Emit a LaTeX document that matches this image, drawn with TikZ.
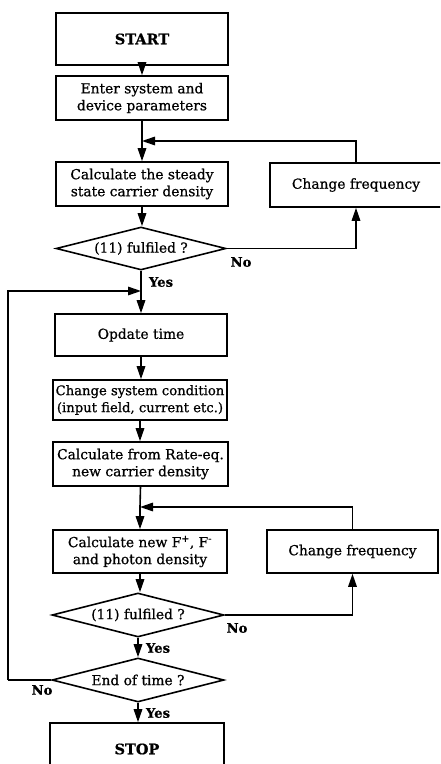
\documentclass[tikz,border=0pt]{standalone}
\usepackage{fontspec}
\setmainfont{DejaVu Serif}[FakeBold=0.7]
\usetikzlibrary{shapes.geometric,arrows.meta}
\begin{document}
\begin{tikzpicture}[x=1pt,y=-1pt,
  box/.style={draw, line width=1.6pt, inner sep=0pt, align=center, font=\fontsize{13.8}{17}\selectfont},
  dia/.style={draw, diamond, shape aspect=3.9, line width=1.6pt, inner sep=0pt, font=\fontsize{13.8}{17}\selectfont},
  arr/.style={line width=1.6pt, -{Triangle[length=13pt,width=8.5pt]}},
  ln/.style={line width=1.6pt},
  lbl/.style={font=\bfseries\fontsize{13.2}{15}\selectfont, inner sep=0pt},
  bold/.style={font=\bfseries\fontsize{14.5}{17}\selectfont}]
\clip (0,0) rectangle (440,764);
\fill[white] (0,0) rectangle (440,764);
% boxes
\node[box, bold, minimum width=172pt, minimum height=52pt] (start) at (142,39) {START};
\node[box, minimum width=172pt, minimum height=44pt] (enter) at (142,98) {Enter system and\\device parameters};
\node[box, minimum width=172pt, minimum height=44pt] (steady) at (142,184) {Calculate the steady\\state carrier density};
\node[box, minimum width=172pt, minimum height=44pt] (cf1) at (356,185) {Change frequency};
\node[dia, minimum width=170pt, minimum height=43pt] (d1) at (141,248.5) {(11) fulfiled ?};
\node[box, minimum width=172pt, minimum height=42pt] (upd) at (141,335) {Opdate time};
\node[box, minimum width=174pt, minimum height=40pt, font=\fontsize{13.2}{17}\selectfont] (chg) at (140,400) {Change system condition\\(input field, current etc.)};
\node[box, minimum width=175pt, minimum height=44pt] (rate) at (140.5,464) {Calculate from Rate-eq.\\new carrier density};
\node[box, minimum width=174pt, minimum height=43pt] (calcf) at (140,551.5) {Calculate new F\textsuperscript{+}, F\textsuperscript{-}\\and photon density};
\node[box, minimum width=171pt, minimum height=43pt] (cf2) at (352.5,551.5) {Change frequency};
\node[dia, minimum width=172pt, minimum height=44pt] (d2) at (138,615) {(11) fulfiled ?};
\node[dia, minimum width=172pt, minimum height=44pt] (d3) at (138,680) {End of time ?};
\node[box, bold, minimum width=174pt, minimum height=52pt] (stop) at (137,749) {STOP};
% labels
\node[lbl] (no1) at (241,262) {No};
\node[lbl] (yes1) at (161,282) {Yes};
\node[lbl] (no2) at (237,628) {No};
\node[lbl] (yes2) at (158,648) {Yes};
\node[lbl] (no3) at (42,690) {No};
\node[lbl] (yes3) at (158,713) {Yes};
% junctions
\coordinate (j1) at (142,141);
\coordinate (j2) at (141,291);
\coordinate (j3) at (140,507);
\coordinate (lft) at (8,680);
% connectors
\draw[arr] (start.south) -- (start.south |- enter.north);
\draw[ln] (enter.south) -- (j1);
\draw[arr] (j1) -- (j1 |- steady.north);
\draw[arr] (cf1.north) |- (j1);
\draw[arr] (steady.south) -- (steady.south |- d1.north);
\draw[arr] (d1.east) -| (cf1.south);
\draw[ln] (d1.south) -- (j2);
\draw[arr] (j2) -- (j2 |- upd.north);
\draw[arr] (upd.south) -- (upd.south |- chg.north);
\draw[arr] (chg.south) -- (chg.south |- rate.north);
\draw[ln] (rate.south) -- (j3);
\draw[arr] (j3) -- (j3 |- calcf.north);
\draw[arr] (cf2.north) |- (j3);
\draw[arr] (calcf.south) -- (calcf.south |- d2.north);
\draw[arr] (d2.east) -| (cf2.south);
\draw[arr] (d2.south) -- (d3.north);
\draw[arr] (d3.south) -- (d3.south |- stop.north);
\draw[ln] (d3.west) -- (lft);
\draw[arr] (lft) |- (j2);
\end{tikzpicture}
\end{document}
